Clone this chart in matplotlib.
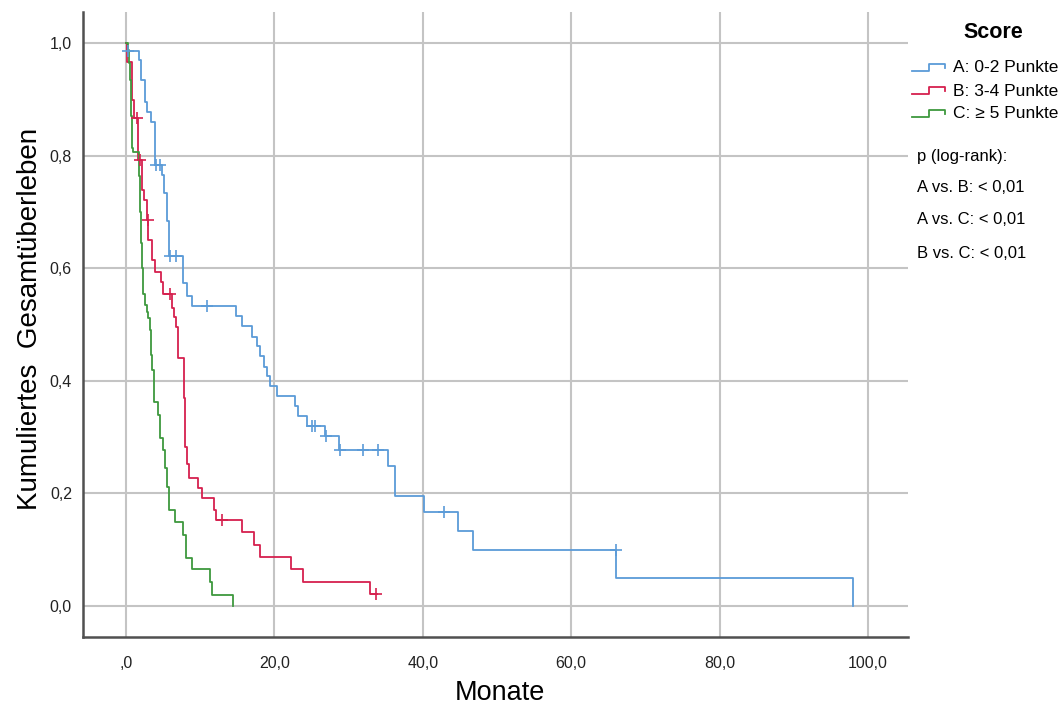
import matplotlib
matplotlib.use("Agg")
import matplotlib.pyplot as plt
from matplotlib.lines import Line2D
import numpy as np

plt.rcParams['font.family'] = ['Liberation Sans', 'DejaVu Sans']

# Score A: 0-2 Punkte (event times in months, survival after each step)
a_time = [0.1, 1.8, 2.0, 2.6, 2.8, 3.3, 3.9, 4.8, 5.1, 5.5, 5.8, 7.7, 8.2, 8.85,
          14.8, 15.6, 17.0, 17.6, 18.05, 18.6, 19.0, 19.4, 20.4, 22.8, 23.2, 24.4,
          26.8, 28.7, 35.3, 36.3, 40.1, 44.7, 46.7, 66.1, 98.0]
a_surv = [0.985, 0.97, 0.935, 0.896, 0.878, 0.86, 0.783, 0.765, 0.733, 0.683, 0.621,
          0.574, 0.55, 0.533, 0.515, 0.497, 0.478, 0.461, 0.444, 0.425, 0.409, 0.39,
          0.373, 0.355, 0.337, 0.32, 0.302, 0.278, 0.249, 0.195, 0.167, 0.133,
          0.0995, 0.049, 0.0]
a_cens = [0.3, 4.1, 4.6, 5.9, 6.8, 10.9, 25.0, 25.5, 26.9, 28.9, 32.0, 33.9, 42.9, 66.0]
a_end = 98.0

# Score B: 3-4 Punkte
b_time = [0.1, 0.77, 1.1, 1.66, 2.1, 2.4, 2.8, 3.0, 3.45, 3.9, 4.7, 5.0, 6.15, 6.5,
          6.8, 7.05, 7.75, 7.8, 7.85, 7.9, 7.95, 8.0, 8.2, 8.5, 9.75, 10.2, 11.8, 12.1,
          15.6, 17.2, 18.1, 22.3, 23.8, 32.9]
b_surv = [0.967, 0.899, 0.866, 0.792, 0.739, 0.721, 0.685, 0.65, 0.615, 0.594, 0.576,
          0.555, 0.529, 0.514, 0.496, 0.44, 0.42, 0.40, 0.37, 0.34, 0.31, 0.283, 0.253,
          0.227, 0.209, 0.191, 0.170, 0.153, 0.132, 0.108, 0.087, 0.066, 0.043, 0.0213]
b_cens = [1.44, 1.9, 2.9, 5.9, 12.9, 33.7]
b_end = 33.8

# Score C: >= 5 Punkte
c_time = [0.2, 0.4, 0.55, 0.65, 0.72, 0.77, 0.8, 1.0, 1.8, 1.9, 2.0, 2.1, 2.3, 2.6,
          2.8, 3.0, 3.2, 3.3, 3.5, 3.8, 4.35, 4.6, 5.0, 5.3, 5.57, 5.84, 6.6, 7.7,
          8.1, 8.85, 11.3, 11.55, 14.4]
c_surv = [0.988, 0.964, 0.934, 0.90, 0.87, 0.84, 0.813, 0.807, 0.763, 0.70, 0.644,
          0.60, 0.555, 0.535, 0.523, 0.511, 0.49, 0.446, 0.42, 0.363, 0.339, 0.298,
          0.277, 0.245, 0.212, 0.17, 0.15, 0.126, 0.085, 0.065, 0.043, 0.0195, 0.0]
c_cens = []
c_end = 14.4

labels = ['A: 0-2 Punkte', 'B: 3-4 Punkte', 'C: \u2265 5 Punkte']
colors = ['#5b9bd8', '#d6204e', '#3e993e']

x_ticks = [0, 20, 40, 60, 80, 100]
x_ticklabels = [',0', '20,0', '40,0', '60,0', '80,0', '100,0']
y_ticks = [0.0, 0.2, 0.4, 0.6, 0.8, 1.0]
y_ticklabels = ['0,0', '0,2', '0,4', '0,6', '0,8', '1,0']

p_lines = ['p (log-rank):', 'A vs. B: < 0,01', 'A vs. C: < 0,01', 'B vs. C: < 0,01']

W, H = 1063, 709
fig = plt.figure(figsize=(W / 100, H / 100), dpi=100)
ax = fig.add_axes([83 / W, 1 - 637 / H, (908 - 83) / W, (637 - 12) / H])

groups = [(a_time, a_surv, a_cens, a_end),
          (b_time, b_surv, b_cens, b_end),
          (c_time, c_surv, c_cens, c_end)]

for (t, s, cens, end), col in zip(groups, colors):
    xs = [0.0] + t + [end]
    ys = [1.0] + s + [s[-1]]
    ax.step(xs, ys, where='post', color=col, lw=1.3, zorder=3)
    if cens:
        idx = np.searchsorted(t, cens, side='right') - 1
        cy = [s[i] if i >= 0 else 1.0 for i in idx]
        ax.plot(cens, cy, ls='none', marker='+', ms=9, mew=1.2, color=col, zorder=4)

ax.set_xlim(-5.8, 105.4)
ax.set_ylim(-0.055, 1.055)
ax.set_xticks(x_ticks)
ax.set_xticklabels(x_ticklabels)
ax.set_yticks(y_ticks)
ax.set_yticklabels(y_ticklabels)
ax.tick_params(axis='both', length=0, labelsize=11.5, colors='#222222')
ax.tick_params(axis='x', pad=14)
ax.tick_params(axis='y', pad=8)
ax.grid(True, color='#c4c4c4', lw=1.5)
ax.set_axisbelow(True)
for side in ['top', 'right']:
    ax.spines[side].set_visible(False)
for side in ['left', 'bottom']:
    ax.spines[side].set_color('#505050')
    ax.spines[side].set_linewidth(1.8)

fig.text(30 / W, 1 - 319 / H, 'Kumuliertes  Gesamtüberleben', rotation=90,
         ha='center', va='center', fontsize=20)
fig.text(500 / W, 1 - 693 / H, 'Monate', ha='center', va='center', fontsize=19.5)

# legend
fig.text(993 / W, 1 - 33 / H, 'Score', ha='center', va='center',
         fontsize=15.5, fontweight='bold')
row_y = [68, 91, 114]
for lab, col, ry in zip(labels, colors, row_y):
    px = [912, 929, 929, 945, 945]
    py = [ry + 3, ry + 3, ry - 4, ry - 4, ry]
    fig.add_artist(Line2D([p / W for p in px], [1 - p / H for p in py],
                          color=col, lw=1.3, transform=fig.transFigure))
    fig.text(953 / W, 1 - ry / H, lab, ha='left', va='center', fontsize=12.5)

p_y = [156, 187, 220, 254]
for txt, ry in zip(p_lines, p_y):
    fig.text(917 / W, 1 - ry / H, txt, ha='left', va='center', fontsize=12)

fig.savefig('out.png', dpi=100)
